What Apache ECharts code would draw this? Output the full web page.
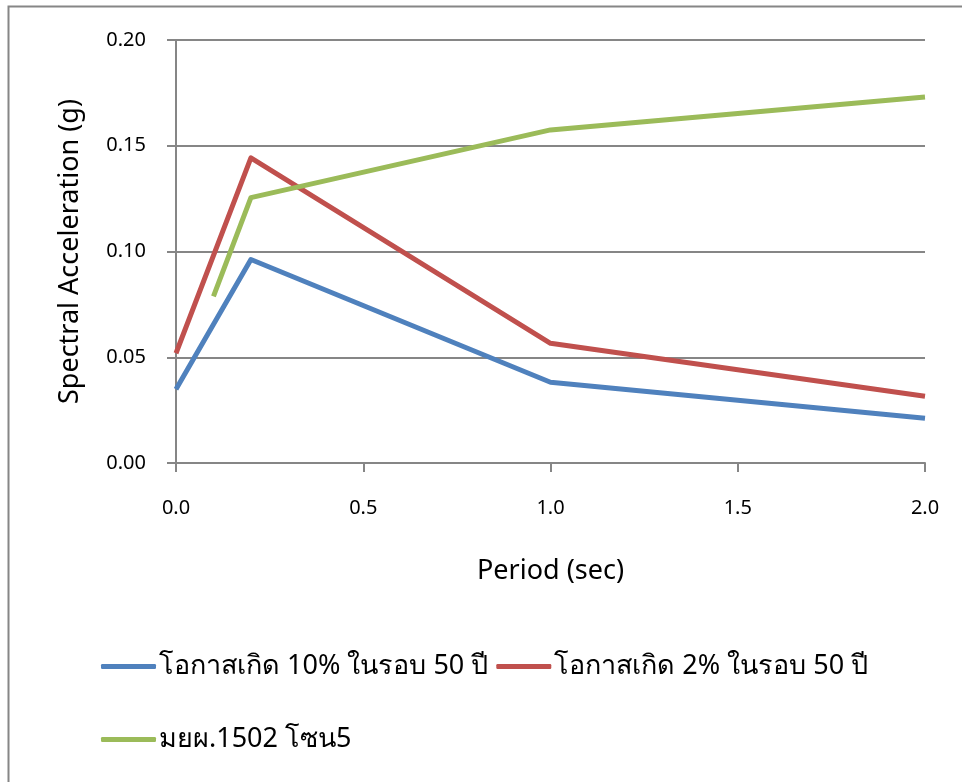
<!DOCTYPE html>
<html><head><meta charset="utf-8">
<script src="https://cdn.jsdelivr.net/npm/echarts@6/dist/echarts.min.js"></script>
<style>html,body{margin:0;padding:0;background:#fff}#c{width:962px;height:782px}</style>
</head><body><div id="c"></div>
<script>
const seriesNames = ['โอกาสเกิด 10% ในรอบ 50 ปี', 'โอกาสเกิด 2% ในรอบ 50 ปี', 'มยผ.1502 โซน5'];
const blueData = [[0, 0.0349], [0.2, 0.0962], [1.0, 0.0382], [2.0, 0.0212]];
const redData = [[0, 0.0519], [0.2, 0.1443], [1.0, 0.0566], [2.0, 0.0316]];
const greenData = [[0.1, 0.0788], [0.2, 0.1255], [1.0, 0.1575], [2.0, 0.1731]];
const colors = ['#4F81BD', '#C0504D', '#9BBB59'];
const FONT = '"Noto Sans", "Open Sans", sans-serif';

const chart = echarts.init(document.getElementById('c'));
const mk = (name, data, color) => ({
  name, type: 'line', data, showSymbol: false, symbol: 'none',
  lineStyle: { color, width: 5, cap: 'butt', join: 'round' },
  itemStyle: { color }, animation: false
});
const legendCommon = {
  orient: 'horizontal', itemWidth: 55, itemHeight: 5, itemGap: 8,
  icon: 'roundRect',
  textStyle: { fontFamily: FONT, fontSize: 27, color: '#000', padding: [0, 0, 0, -2] }
};
chart.setOption({
  animation: false,
  color: colors,
  graphic: [{
    type: 'rect', shape: { x: 8.5, y: 6.5, width: 1000, height: 1000 },
    style: { fill: 'none', stroke: '#868686', lineWidth: 2 }, silent: true
  }],
  grid: { left: 176, right: 37, top: 40, bottom: 319, containLabel: false },
  xAxis: {
    type: 'value', min: 0, max: 2, interval: 0.5,
    name: 'Period (sec)', nameLocation: 'middle', nameGap: 95,
    nameTextStyle: { fontFamily: FONT, fontSize: 27, color: '#000' },
    axisLine: { show: true, lineStyle: { color: '#868686', width: 2 } },
    axisTick: { show: true, length: 9, lineStyle: { color: '#868686', width: 2 } },
    axisLabel: { margin: 35, fontFamily: FONT, fontSize: 20, color: '#000', formatter: v => v.toFixed(1) },
    splitLine: { show: false }
  },
  yAxis: {
    type: 'value', min: 0, max: 0.2, interval: 0.05,
    name: 'Spectral Acceleration (g)', nameLocation: 'middle', nameGap: 92,
    nameTextStyle: { fontFamily: FONT, fontSize: 27, color: '#000' },
    axisLine: { show: true, lineStyle: { color: '#868686', width: 2 } },
    axisTick: { show: true, length: 9, lineStyle: { color: '#868686', width: 2 } },
    axisLabel: { margin: 30, fontFamily: FONT, fontSize: 20, color: '#000', formatter: v => v.toFixed(2) },
    splitLine: { show: true, lineStyle: { color: '#868686', width: 2 } }
  },
  legend: [
    Object.assign({ left: 96, top: 648, data: [seriesNames[0], seriesNames[1]] }, legendCommon),
    Object.assign({ left: 96, top: 721, data: [seriesNames[2]] }, legendCommon)
  ],
  series: [
    mk(seriesNames[0], blueData, colors[0]),
    mk(seriesNames[1], redData, colors[1]),
    mk(seriesNames[2], greenData, colors[2])
  ]
});
</script></body></html>
